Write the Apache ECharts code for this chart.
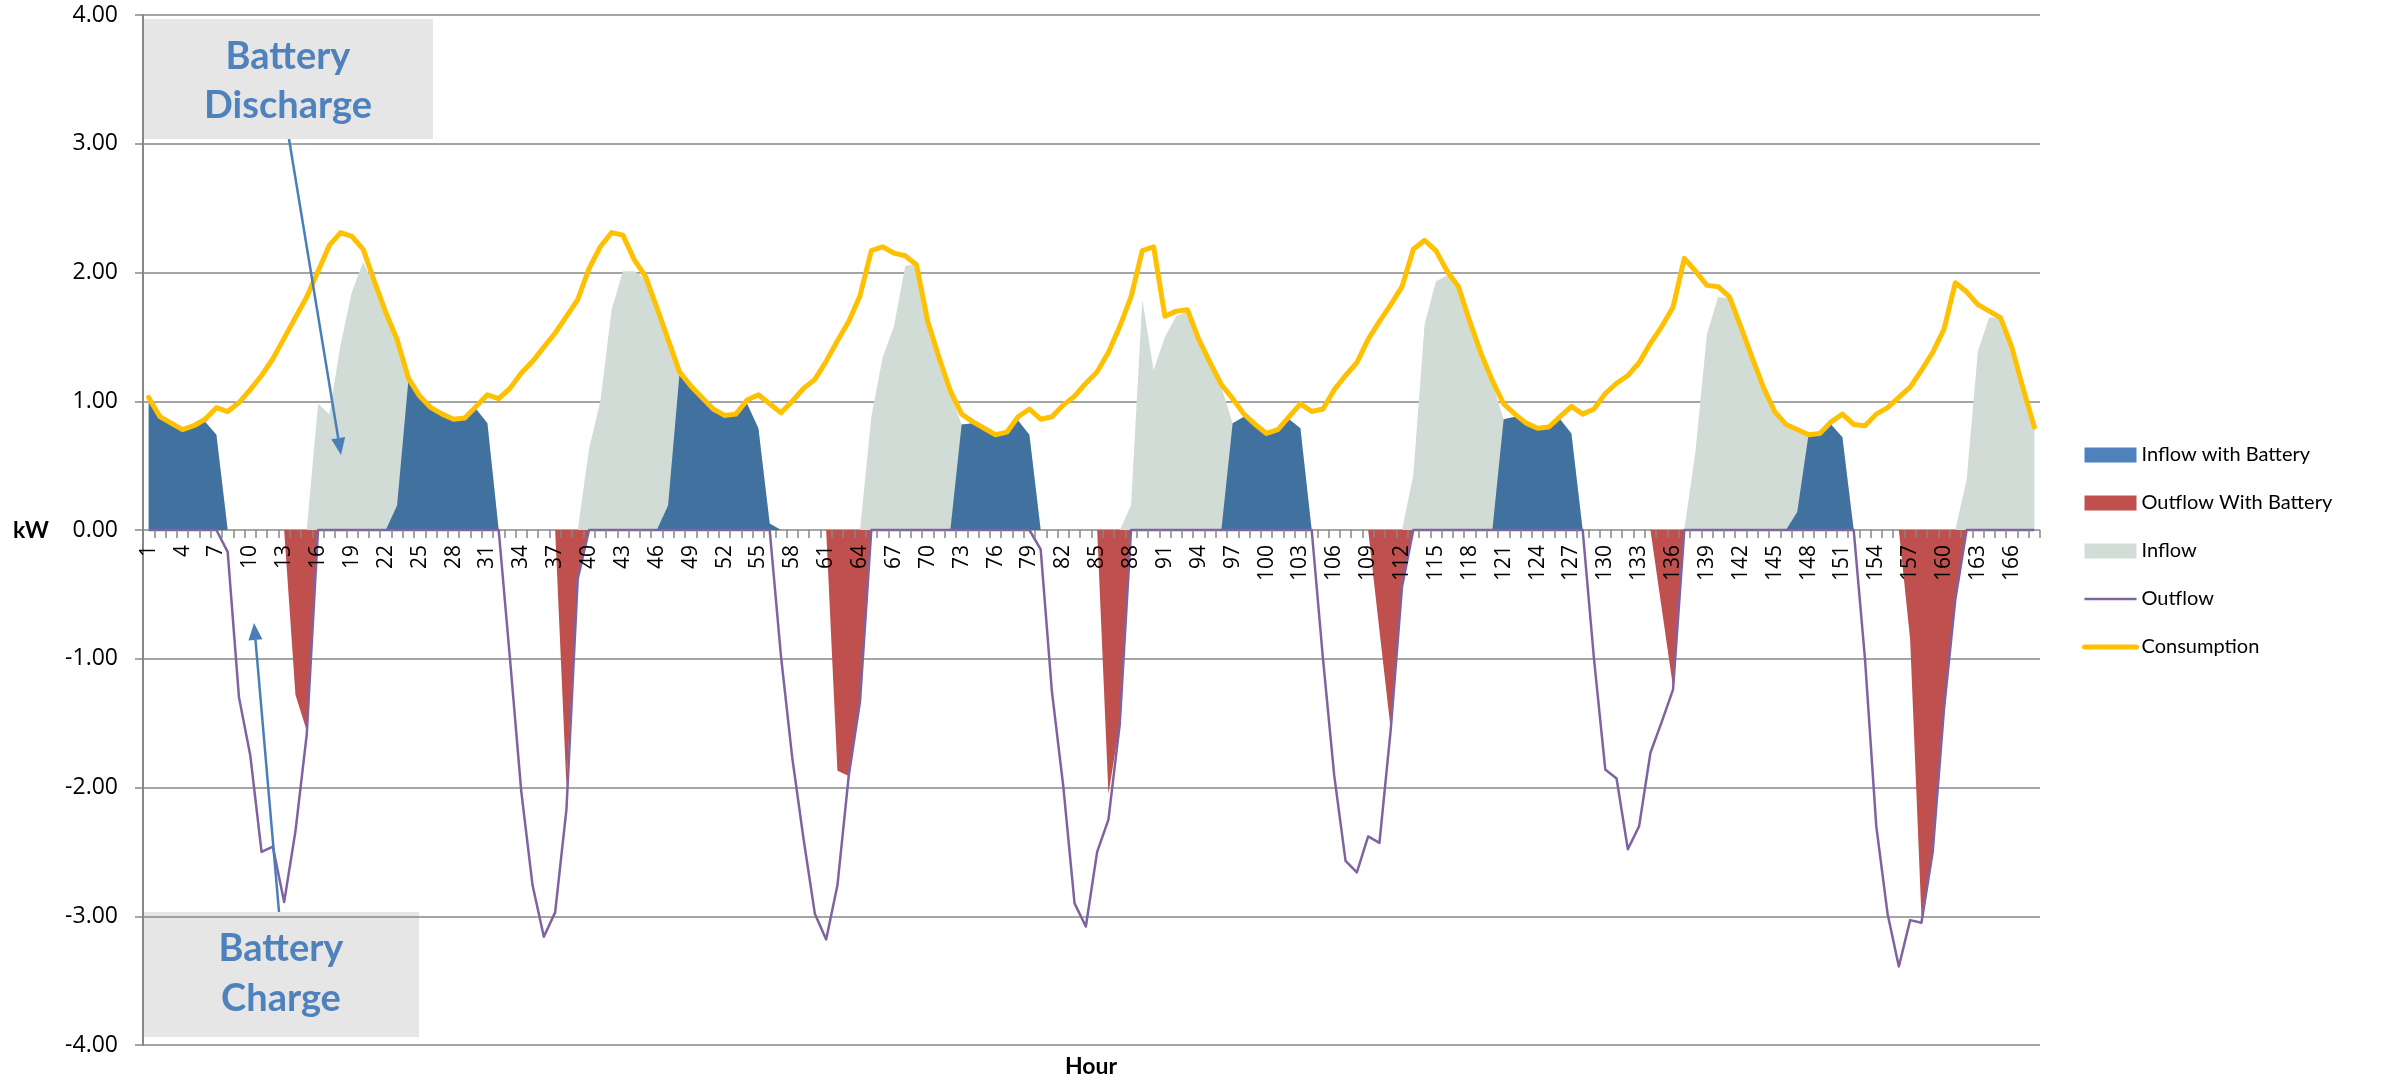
<!DOCTYPE html>
<html>
<head>
<meta charset="utf-8">
<title>Hourly grid flows with and without battery</title>
<script src="https://cdn.jsdelivr.net/npm/echarts@6/dist/echarts.min.js"></script>
<style>
  html, body { margin: 0; padding: 0; background: #ffffff; }
  #chart { width: 2407px; height: 1088px; }
</style>
</head>
<body>
<div id="chart"></div>
<script>
// Hour of the week (1..168)
const hours = [];
for (let h = 1; h <= 168; h++) hours.push(String(h));

// Household consumption, kW
const consumption = [
  1.03, 0.88, 0.83, 0.78, 0.81, 0.86, 0.95, 0.92, 0.99, 1.09, 1.20, 1.33, 1.49, 1.65, 1.81, 2.01, 2.21, 2.31, 2.28, 2.18, 1.93, 1.69, 1.48, 1.18,
  1.04, 0.95, 0.90, 0.86, 0.87, 0.96, 1.05, 1.02, 1.10, 1.22, 1.31, 1.42, 1.53, 1.66, 1.79, 2.03, 2.20, 2.31, 2.29, 2.10, 1.97, 1.73, 1.48, 1.23,
  1.12, 1.03, 0.94, 0.89, 0.90, 1.01, 1.05, 0.98, 0.91, 1.00, 1.10, 1.17, 1.31, 1.47, 1.62, 1.82, 2.17, 2.20, 2.15, 2.13, 2.06, 1.62, 1.34, 1.08,
  0.90, 0.84, 0.79, 0.74, 0.76, 0.88, 0.94, 0.86, 0.88, 0.97, 1.04, 1.14, 1.23, 1.38, 1.58, 1.81, 2.17, 2.20, 1.66, 1.70, 1.71, 1.48, 1.30, 1.13,
  1.02, 0.90, 0.82, 0.75, 0.78, 0.88, 0.98, 0.92, 0.94, 1.09, 1.20, 1.30, 1.48, 1.62, 1.75, 1.89, 2.18, 2.25, 2.17, 2.01, 1.89, 1.62, 1.37, 1.16,
  0.98, 0.90, 0.83, 0.79, 0.80, 0.88, 0.96, 0.90, 0.94, 1.06, 1.14, 1.20, 1.30, 1.45, 1.58, 1.73, 2.11, 2.01, 1.90, 1.89, 1.81, 1.58, 1.34, 1.11,
  0.92, 0.82, 0.78, 0.74, 0.75, 0.84, 0.90, 0.82, 0.81, 0.90, 0.95, 1.03, 1.11, 1.24, 1.38, 1.56, 1.92, 1.85, 1.75, 1.70, 1.65, 1.42, 1.10, 0.80
];

// Grid import when the battery is used, kW
const inflowWithBattery = [
  0.99, 0.87, 0.82, 0.77, 0.80, 0.84, 0.74, 0, 0, 0, 0, 0, 0, 0, 0, 0, 0, 0, 0, 0, 0, 0, 0.19, 1.16,
  1.04, 0.95, 0.90, 0.86, 0.87, 0.94, 0.83, 0, 0, 0, 0, 0, 0, 0, 0, 0, 0, 0, 0, 0, 0, 0, 0.19, 1.20,
  1.12, 1.03, 0.94, 0.89, 0.90, 0.98, 0.79, 0.05, 0, 0, 0, 0, 0, 0, 0, 0, 0, 0, 0, 0, 0, 0, 0, 0,
  0.82, 0.83, 0.79, 0.74, 0.75, 0.85, 0.74, 0, 0, 0, 0, 0, 0, 0, 0, 0, 0, 0, 0, 0, 0, 0, 0, 0,
  0.83, 0.88, 0.83, 0.76, 0.79, 0.86, 0.79, 0, 0, 0, 0, 0, 0, 0, 0, 0, 0, 0, 0, 0, 0, 0, 0, 0,
  0.86, 0.88, 0.82, 0.78, 0.79, 0.86, 0.75, 0, 0, 0, 0, 0, 0, 0, 0, 0, 0, 0, 0, 0, 0, 0, 0, 0,
  0, 0, 0.14, 0.74, 0.75, 0.82, 0.72, 0, 0, 0, 0, 0, 0, 0, 0, 0, 0, 0, 0, 0, 0, 0, 0, 0
];

// Grid export when the battery is used, kW
const outflowWithBattery = [
  0, 0, 0, 0, 0, 0, 0, 0, 0, 0, 0, 0, 0, -1.28, -1.56, 0, 0, 0, 0, 0, 0, 0, 0, 0,
  0, 0, 0, 0, 0, 0, 0, 0, 0, 0, 0, 0, 0, -1.99, -0.38, 0, 0, 0, 0, 0, 0, 0, 0, 0,
  0, 0, 0, 0, 0, 0, 0, 0, 0, 0, 0, 0, 0, -1.87, -1.91, -1.33, 0, 0, 0, 0, 0, 0, 0, 0,
  0, 0, 0, 0, 0, 0, 0, 0, 0, 0, 0, 0, 0, -2.05, -1.51, 0, 0, 0, 0, 0, 0, 0, 0, 0,
  0, 0, 0, 0, 0, 0, 0, 0, 0, 0, 0, 0, 0, -0.78, -1.55, -0.44, 0, 0, 0, 0, 0, 0, 0, 0,
  0, 0, 0, 0, 0, 0, 0, 0, 0, 0, 0, 0, 0, 0, -0.61, -1.22, 0, 0, 0, 0, 0, 0, 0, 0,
  0, 0, 0, 0, 0, 0, 0, 0, 0, 0, 0, 0, -0.85, -3.00, -2.50, -1.39, -0.54, 0, 0, 0, 0, 0, 0, 0
];

// Grid import without a battery, kW
const inflow = [
  0.99, 0.87, 0.82, 0.77, 0.80, 0.84, 0.74, 0, 0, 0, 0, 0, 0, 0, 0, 0.98, 0.90, 1.44, 1.85, 2.08, 1.90, 1.66, 1.46, 1.16,
  1.04, 0.95, 0.90, 0.86, 0.87, 0.94, 0.83, 0, 0, 0, 0, 0, 0, 0, 0, 0.63, 1.00, 1.71, 2.01, 2.01, 1.95, 1.71, 1.46, 1.20,
  1.12, 1.03, 0.94, 0.89, 0.90, 0.98, 0.79, 0.05, 0, 0, 0, 0, 0, 0, 0, 0, 0.88, 1.34, 1.58, 2.05, 2.07, 1.60, 1.32, 1.06,
  0.82, 0.83, 0.79, 0.74, 0.75, 0.85, 0.74, 0, 0, 0, 0, 0, 0, 0, 0, 0.19, 1.79, 1.24, 1.50, 1.66, 1.70, 1.46, 1.28, 1.11,
  0.83, 0.88, 0.83, 0.76, 0.79, 0.86, 0.79, 0, 0, 0, 0, 0, 0, 0, 0, 0, 0.43, 1.60, 1.93, 1.98, 1.88, 1.60, 1.35, 1.14,
  0.86, 0.88, 0.82, 0.78, 0.79, 0.86, 0.75, 0, 0, 0, 0, 0, 0, 0, 0, 0, 0, 0.62, 1.52, 1.81, 1.80, 1.57, 1.32, 1.09,
  0.91, 0.81, 0.77, 0.74, 0.75, 0.82, 0.72, 0, 0, 0, 0, 0, 0, 0, 0, 0, 0, 0.39, 1.39, 1.65, 1.65, 1.41, 1.09, 0.79
];

// Grid export without a battery, kW
const outflow = [
  0, 0, 0, 0, 0, 0, 0, -0.17, -1.30, -1.75, -2.50, -2.46, -2.89, -2.34, -1.59, 0, 0, 0, 0, 0, 0, 0, 0, 0,
  0, 0, 0, 0, 0, 0, 0, 0, -1.00, -2.03, -2.76, -3.16, -2.97, -2.17, -0.38, 0, 0, 0, 0, 0, 0, 0, 0, 0,
  0, 0, 0, 0, 0, 0, 0, 0, -0.98, -1.77, -2.40, -2.98, -3.18, -2.76, -1.91, -1.33, 0, 0, 0, 0, 0, 0, 0, 0,
  0, 0, 0, 0, 0, 0, 0, -0.15, -1.26, -1.99, -2.90, -3.08, -2.50, -2.25, -1.51, 0, 0, 0, 0, 0, 0, 0, 0, 0,
  0, 0, 0, 0, 0, 0, 0, 0, -1.00, -1.91, -2.57, -2.66, -2.38, -2.43, -1.55, -0.44, 0, 0, 0, 0, 0, 0, 0, 0,
  0, 0, 0, 0, 0, 0, 0, 0, -1.00, -1.86, -1.93, -2.48, -2.30, -1.73, -1.49, -1.24, 0, 0, 0, 0, 0, 0, 0, 0,
  0, 0, 0, 0, 0, 0, 0, 0, -1.00, -2.30, -2.98, -3.39, -3.03, -3.05, -2.50, -1.39, -0.54, 0, 0, 0, 0, 0, 0, 0
];

const Y_MIN = -4, Y_MAX = 4, Y_STEP = 1;

const FONT = 'Lato, "Open Sans", sans-serif';
const NUM_FONT = '"Open Sans", Lato, sans-serif';
const AXIS_GRAY = '#878787';
const NOTE_BLUE = '#4F81BD';
const ARROW_BLUE = '#4A7EBB';

const CHART_W = 2407, CHART_H = 1088;
const GRID = { left: 143, right: 367, top: 15, bottom: 43 };
// The hour axis sits on the 0 kW line: shift it up from the bottom of the plot
const plotH = CHART_H - GRID.top - GRID.bottom;
const xAxisOffset = -plotH * (0 - Y_MIN) / (Y_MAX - Y_MIN);

// Straight arrow with a filled triangular head at (x2, y2)
function arrow(x1, y1, x2, y2) {
  const dx = x2 - x1, dy = y2 - y1;
  const len = Math.sqrt(dx * dx + dy * dy);
  const ux = dx / len, uy = dy / len;
  const headLen = 17, headHalf = 7;
  const bx = x2 - ux * headLen, by = y2 - uy * headLen;
  return [
    {
      type: 'line', z: 20,
      shape: { x1: x1, y1: y1, x2: bx, y2: by },
      style: { stroke: ARROW_BLUE, lineWidth: 2.5 }
    },
    {
      type: 'polygon', z: 20,
      shape: { points: [[x2, y2], [bx - uy * headHalf, by + ux * headHalf], [bx + uy * headHalf, by - ux * headHalf]] },
      style: { fill: ARROW_BLUE }
    }
  ];
}

function areaSeries(name, data, color, z) {
  return {
    name: name, type: 'line', data: data, z: z,
    symbol: 'none', showSymbol: false,
    lineStyle: { width: 0 },
    itemStyle: { color: color },
    areaStyle: { color: color, opacity: 1 },
    emphasis: { disabled: true },
    silent: true
  };
}

const chart = echarts.init(document.getElementById('chart'), null, { renderer: 'canvas' });

chart.setOption({
  animation: false,
  backgroundColor: '#ffffff',
  grid: { left: GRID.left, right: GRID.right, top: GRID.top, bottom: GRID.bottom, containLabel: false },
  legend: {
    orient: 'vertical',
    left: 2082, top: 444,
    padding: 0,
    itemWidth: 52, itemHeight: 15, itemGap: 26,
    selectedMode: false,
    textStyle: { fontFamily: FONT, fontSize: 20, color: '#000000', lineHeight: 22 },
    data: [
      { name: 'Inflow with Battery', icon: 'rect', itemStyle: { color: '#4F81BD' } },
      { name: 'Outflow With Battery', icon: 'rect', itemStyle: { color: '#C0504D' } },
      { name: 'Inflow', icon: 'rect', itemStyle: { color: '#D3DDD8' } },
      { name: 'Outflow', itemStyle: { opacity: 0 }, lineStyle: { width: 2.5, color: '#7F63A1' } },
      { name: 'Consumption', itemStyle: { opacity: 0 }, lineStyle: { width: 5, color: '#FFC000' } }
    ]
  },
  xAxis: {
    type: 'category',
    data: hours,
    boundaryGap: true,
    position: 'bottom',
    offset: xAxisOffset,
    z: 10,
    // the 0 kW grid line serves as the axis line, under the outflow trace
    axisLine: { show: false, onZero: false },
    axisTick: { show: true, interval: 0, length: 8, lineStyle: { color: AXIS_GRAY, width: 1.5 } },
    axisLabel: {
      interval: 2, rotate: 90, margin: 15,
      fontFamily: NUM_FONT, fontSize: 21, color: '#000000'
    },
    splitLine: { show: false }
  },
  yAxis: {
    type: 'value',
    min: Y_MIN, max: Y_MAX, interval: Y_STEP,
    axisLine: { show: true, lineStyle: { color: AXIS_GRAY, width: 2 } },
    axisTick: { show: true, length: 8, lineStyle: { color: AXIS_GRAY, width: 1.5 } },
    axisLabel: {
      margin: 25, fontFamily: NUM_FONT, fontSize: 23, color: '#000000',
      formatter: function (v) { return v.toFixed(2); }
    },
    splitLine: { show: true, lineStyle: { color: AXIS_GRAY, width: 1.5 } }
  },
  series: [
    areaSeries('Inflow with Battery', inflowWithBattery, '#41729F', 3),
    areaSeries('Outflow With Battery', outflowWithBattery, '#C0504D', 4),
    areaSeries('Inflow', inflow, '#D1DCD6', 2),
    {
      name: 'Outflow', type: 'line', data: outflow, z: 5,
      symbol: 'none', showSymbol: false, silent: true,
      itemStyle: { color: '#7F63A1' },
      lineStyle: { color: '#7F63A1', width: 2.5, join: 'round' }
    },
    {
      name: 'Consumption', type: 'line', data: consumption, z: 6,
      symbol: 'none', showSymbol: false, silent: true,
      itemStyle: { color: '#FFC000' },
      lineStyle: { color: '#FFC000', width: 5, join: 'round', cap: 'round' }
    }
  ],
  graphic: [
    // Annotation boxes
    { type: 'rect', z: -1, shape: { x: 143, y: 19, width: 290, height: 120 }, style: { fill: '#E6E6E6' } },
    { type: 'rect', z: -1, shape: { x: 143, y: 912, width: 276, height: 125 }, style: { fill: '#E6E6E6' } },
    {
      type: 'text', z: 21, x: 288, y: 81,
      style: {
        text: 'Battery\nDischarge', fill: NOTE_BLUE, align: 'center', verticalAlign: 'middle',
        font: 'bold 38px ' + FONT, lineHeight: 49
      }
    },
    {
      type: 'text', z: 21, x: 281, y: 974,
      style: {
        text: 'Battery\nCharge', fill: NOTE_BLUE, align: 'center', verticalAlign: 'middle',
        font: 'bold 38px ' + FONT, lineHeight: 50
      }
    },
    ...arrow(289, 139, 341, 455),
    ...arrow(279, 912, 254, 623),
    // Axis titles
    {
      type: 'text', x: 31, y: 531,
      style: { text: 'kW', fill: '#000000', align: 'center', verticalAlign: 'middle', font: 'bold 23px ' + FONT }
    },
    {
      type: 'text', x: 1091, y: 1067,
      style: { text: 'Hour', fill: '#000000', align: 'center', verticalAlign: 'middle', font: 'bold 23px ' + FONT }
    }
  ]
});
</script>
</body>
</html>
